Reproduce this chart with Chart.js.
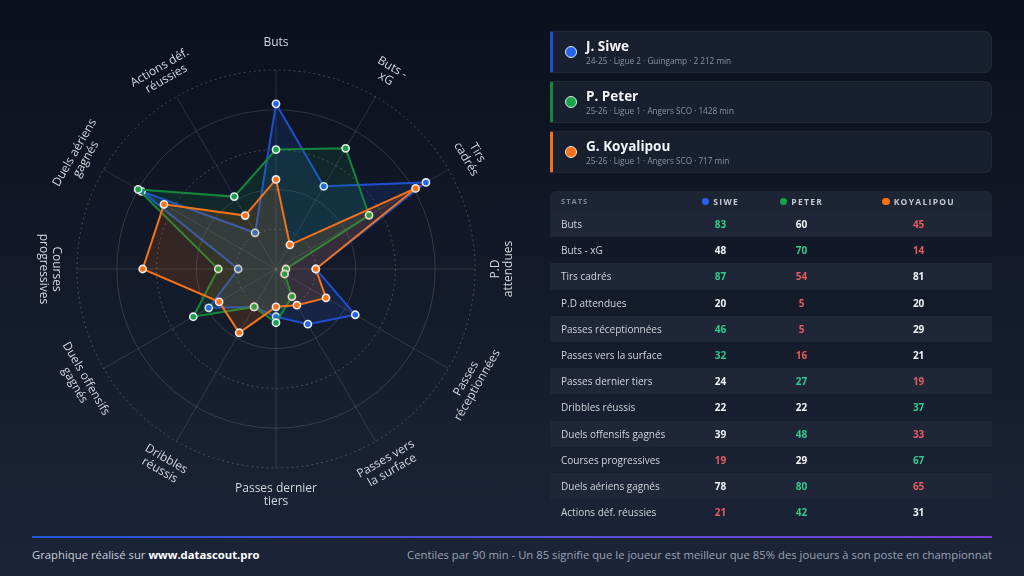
<!DOCTYPE html>
<html lang="fr">
<head>
<meta charset="utf-8">
<script src="https://cdn.jsdelivr.net/npm/chart.js@4.4.1/dist/chart.umd.min.js"></script>
<style>
  * { box-sizing: border-box; margin: 0; padding: 0; }
  html, body { width: 1024px; height: 576px; overflow: hidden; }
  body {
    background: linear-gradient(180deg, #0b101d 0%, #141b2b 55%, #1c2538 100%);
    font-family: "Open Sans", "Noto Sans", sans-serif;
    color: #e5e7eb;
    position: relative;
  }
  #radarWrap { position: absolute; left: 0; top: 0; width: 552px; height: 538px; }
  #players { position: absolute; left: 550px; top: 31px; width: 442px; }
  .card {
    position: relative; height: 42px; margin-bottom: 8px;
    background: #181f2e; border: 1px solid rgba(255,255,255,0.05);
    border-left: 3px solid; border-radius: 2px 8px 8px 2px;
  }
  .card .dot {
    position: absolute; left: 12px; top: 14px; width: 12px; height: 12px;
    border-radius: 50%; border: 1.5px solid #e5e7eb;
  }
  .card .name { position: absolute; left: 33px; top: 5px; font-size: 13.5px; font-weight: 700; color: #f3f4f6; }
  .card .meta { position: absolute; left: 33px; top: 23px; font-size: 8.2px; color: #8a93a5; }
  #stats { position: absolute; left: 550px; top: 191px; width: 442px; border-collapse: collapse; }
  #stats th { height: 20px; background: #1d2535; font-size: 8.5px; font-weight: 700; letter-spacing: 1.3px; color: #c3c9d4; text-align: center; }
  #stats th:first-child { text-align: left; padding-left: 11px; color: #7f8899; width: 133px; font-size: 7.5px; letter-spacing: 1px; border-radius: 6px 0 0 0; }
  #stats th:last-child { border-radius: 0 6px 0 0; }
  #stats th .hd { display: inline-block; width: 7.5px; height: 7.5px; border-radius: 50%; margin-right: 4px; vertical-align: -0.5px; }
  #stats td { height: 26.2px; font-size: 10px; text-align: center; font-weight: 700; }
  #stats td:first-child { text-align: left; padding-left: 11px; font-weight: 500; color: #cfd4dc; }
  #stats tr.alt td { background: #1e2637; }
  .hi { color: #34c98e; }
  .lo { color: #e35d5d; }
  .mid { color: #f1f3f6; }
  #footLine { position: absolute; left: 32px; top: 536px; width: 960px; height: 2px; background: linear-gradient(90deg, #2457d6, #5b4fd6 60%, #7e3fd8); }
  #footL { position: absolute; left: 32px; top: 547px; font-size: 11.3px; color: #c7ccd6; }
  #footL b { color: #ffffff; }
  #footR { position: absolute; right: 32px; top: 547px; font-size: 11.3px; color: #9aa2b1; }
</style>
</head>
<body>
<div id="radarWrap"><canvas id="radar"></canvas></div>
<div id="players"></div>
<table id="stats"></table>
<div id="footLine"></div>
<div id="footL">Graphique réalisé sur <b>www.datascout.pro</b></div>
<div id="footR">Centiles par 90 min - Un 85 signifie que le joueur est meilleur que 85% des joueurs à son poste en championnat</div>

<script>
// axes du radar (une entrée = lignes du libellé)
const categories = [
  ['Buts'],
  ['Buts -', 'xG'],
  ['Tirs', 'cadrés'],
  ['P.D', 'attendues'],
  ['Passes', 'réceptionnées'],
  ['Passes vers', 'la surface'],
  ['Passes dernier', 'tiers'],
  ['Dribbles', 'réussis'],
  ['Duels offensifs', 'gagnés'],
  ['Courses', 'progressives'],
  ['Duels aériens', 'gagnés'],
  ['Actions déf.', 'réussies']
];

const playerNames = ['J. Siwe', 'P. Peter', 'G. Koyalipou'];
const shortNames = ['SIWE', 'PETER', 'KOYALIPOU'];
const playerMeta = [
  '24-25 · Ligue 2 · Guingamp · 2 212 min',
  '25-26 · Ligue 1 · Angers SCO · 1428 min',
  '25-26 · Ligue 1 · Angers SCO · 717 min'
];

const siweValues = [83, 48, 87, 20, 46, 32, 24, 22, 39, 19, 78, 21];
const peterValues = [60, 70, 54, 5, 5, 16, 27, 22, 48, 29, 80, 42];
const koyalipouValues = [45, 14, 81, 20, 29, 21, 19, 37, 33, 67, 65, 31];

const gridTicks = [0, 20, 40, 60, 80, 100];

const lineColors = ['#1f4fcf', '#15873c', '#f47318'];
const dotColors = ['#2563eb', '#16a34a', '#f97316'];
const fillColors = ['rgba(37,99,235,0.14)', 'rgba(22,163,74,0.13)', 'rgba(249,115,22,0.15)'];

const allValues = [siweValues, peterValues, koyalipouValues];

// cartes joueurs
const players = document.getElementById('players');
playerNames.forEach((n, i) => {
  const c = document.createElement('div');
  c.className = 'card';
  c.style.borderLeftColor = lineColors[i];
  c.innerHTML = '<span class="dot" style="background:' + dotColors[i] + '"></span>' +
    '<div class="name">' + n + '</div><div class="meta">' + playerMeta[i] + '</div>';
  players.appendChild(c);
});

// tableau
const table = document.getElementById('stats');
let html = '<tr><th>STATS</th>';
shortNames.forEach((s, i) => {
  html += '<th><span class="hd" style="background:' + dotColors[i] + '"></span>' + s + '</th>';
});
html += '</tr>';
categories.forEach((cat, r) => {
  const vals = allValues.map(a => a[r]);
  const mx = Math.max(...vals), mn = Math.min(...vals);
  const nMax = vals.filter(v => v === mx).length;
  const nMin = vals.filter(v => v === mn).length;
  html += '<tr' + (r % 2 === 0 ? ' class="alt"' : '') + '><td>' + cat.join(' ') + '</td>';
  vals.forEach(v => {
    let cls = 'mid';
    if (v === mx && nMax === 1) cls = 'hi';
    else if (v === mn && nMin === 1) cls = 'lo';
    html += '<td class="' + cls + '">' + v + '</td>';
  });
  html += '</tr>';
});
table.innerHTML = html;

// libellés tournés autour du radar
const rotatedLabels = {
  id: 'rotatedLabels',
  afterDraw(chart) {
    const scale = chart.scales.r;
    const ctx = chart.ctx;
    ctx.save();
    ctx.font = '12px "Open Sans", sans-serif';
    ctx.fillStyle = '#d2d6de';
    ctx.textAlign = 'center';
    ctx.textBaseline = 'middle';
    categories.forEach((lines, i) => {
      const p = scale.getPointPosition(i, scale.drawingArea + 27);
      const a = scale.getIndexAngle(i);
      const deg = a * 180 / Math.PI;
      let rot = a;
      if (deg >= 89 && deg <= 271) rot = a - Math.PI;
      ctx.save();
      ctx.translate(p.x, p.y);
      ctx.rotate(rot);
      const lh = 13;
      lines.forEach((ln, k) => {
        ctx.fillText(ln, 0, (k - (lines.length - 1) / 2) * lh);
      });
      ctx.restore();
    });
    ctx.restore();
  }
};

const canvas = document.getElementById('radar');
canvas.width = 552; canvas.height = 538;

new Chart(canvas, {
  type: 'radar',
  data: {
    labels: categories,
    datasets: playerNames.map((n, i) => ({
      label: n,
      data: allValues[i],
      borderColor: lineColors[i],
      backgroundColor: fillColors[i],
      borderWidth: 2,
      fill: true,
      pointRadius: 3.6,
      pointBorderWidth: 1.6,
      pointBorderColor: '#e8ebf0',
      pointBackgroundColor: dotColors[i],
      order: 3 - i
    }))
  },
  options: {
    responsive: false,
    animation: false,
    layout: { padding: 70 },
    plugins: { legend: { display: false }, tooltip: { enabled: false } },
    scales: {
      r: {
        min: 0,
        max: 100,
        afterBuildTicks: s => { s.ticks = gridTicks.map(v => ({ value: v })); },
        ticks: { display: false },
        pointLabels: { display: false },
        angleLines: { color: 'rgba(255,255,255,0.13)', lineWidth: 1 },
        grid: {
          circular: true,
          lineWidth: 1,
          color: ctx => ctx.index % 2 ? 'rgba(255,255,255,0.22)' : 'rgba(255,255,255,0.14)'
        },
        border: {
          dash: ctx => ctx.index % 2 ? [2, 3] : []
        }
      }
    }
  },
  plugins: [rotatedLabels]
});
</script>
</body>
</html>
